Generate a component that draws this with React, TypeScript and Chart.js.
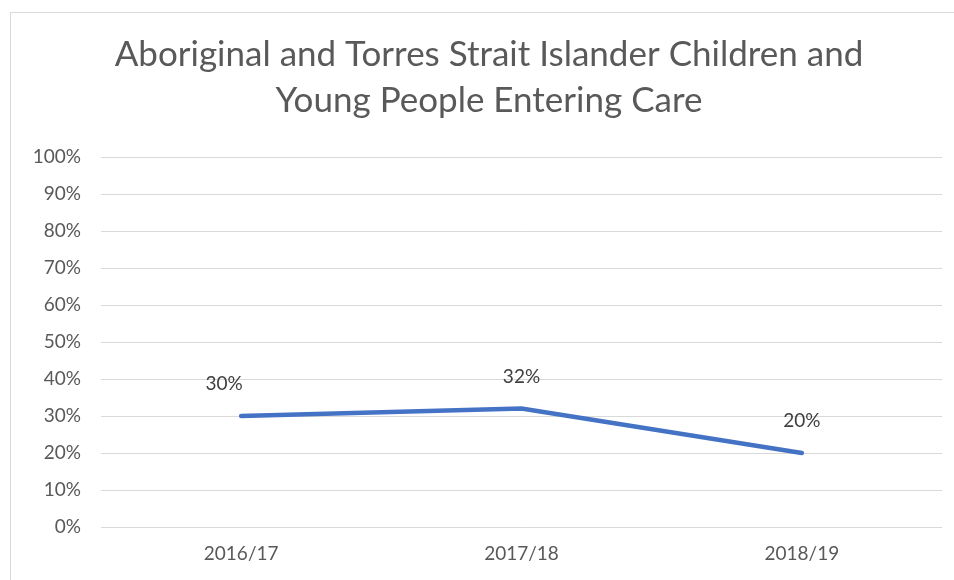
import React, { useEffect, useRef } from "react";
import { Chart, registerables } from "chart.js";

Chart.register(...registerables);

const categories = ["2016/17", "2017/18", "2018/19"];
const values = [30, 32, 20];
const titleLines = ["Aboriginal and Torres Strait Islander Children and", "Young People Entering Care"];

const FONT = "Lato, 'Open Sans', sans-serif";
const labelShiftX = [-17, 0, 0];

const labelPlugin = {
  id: "valueLabels",
  afterDatasetsDraw(chart: any) {
    const ctx = chart.ctx;
    const meta = chart.getDatasetMeta(0);
    ctx.save();
    ctx.font = `19px ${FONT}`;
    ctx.fillStyle = "#404040";
    ctx.textAlign = "center";
    ctx.textBaseline = "middle";
    meta.data.forEach((pt: any, i: number) => {
      ctx.fillText(values[i] + "%", pt.x + labelShiftX[i], pt.y - 32);
    });
    ctx.restore();
  },
};

const titlePlugin = {
  id: "twoLineTitle",
  afterDraw(chart: any) {
    const ctx = chart.ctx;
    ctx.save();
    ctx.font = `35px ${FONT}`;
    ctx.fillStyle = "#595959";
    ctx.textAlign = "center";
    ctx.textBaseline = "middle";
    titleLines.forEach((line, i) => {
      ctx.fillText(line, 489, 55 + i * 46);
    });
    ctx.restore();
  },
};

export default function App() {
  const ref = useRef<HTMLCanvasElement>(null);
  useEffect(() => {
    if (!ref.current) return;
    const chart = new Chart(ref.current, {
      type: "line",
      data: {
        labels: categories,
        datasets: [
          {
            data: values,
            borderColor: "#4472C4",
            backgroundColor: "#4472C4",
            borderWidth: 4.5,
            pointRadius: 0,
            tension: 0,
            borderCapStyle: "round",
          },
        ],
      },
      options: {
        animation: false,
        responsive: false,
        layout: { padding: { left: 0, right: 12, top: 157, bottom: 0 } },
        plugins: {
          legend: { display: false },
          tooltip: { enabled: false },
          title: { display: false },
        },
        scales: {
          x: {
            offset: true,
            grid: { display: false, drawTicks: false },
            border: { display: false },
            ticks: { color: "#595959", font: { family: FONT, size: 19 }, padding: 15 },
            afterFit(scale: any) {
              scale.height = 53;
            },
          },
          y: {
            min: 0,
            max: 100,
            ticks: {
              stepSize: 10,
              color: "#595959",
              font: { family: FONT, size: 19 },
              padding: 20,
              callback: (v: any) => v + "%",
            },
            grid: { color: "#d9d9d9", lineWidth: 1, drawTicks: false },
            border: { display: false },
            afterFit(scale: any) {
              scale.width = 101;
            },
          },
        },
      },
      plugins: [labelPlugin, titlePlugin],
    });
    return () => chart.destroy();
  }, []);
  return (
    <div style={{ position: "fixed", left: 0, top: 0, width: 954, height: 580, background: "#fff" }}>
      <div
        style={{
          position: "absolute",
          left: 10,
          top: 12,
          width: 960,
          height: 600,
          borderLeft: "1px solid #d9d9d9",
          borderTop: "1px solid #d9d9d9",
        }}
      />
      <canvas ref={ref} width={954} height={580} style={{ position: "absolute", left: 0, top: 0 }} />
    </div>
  );
}
